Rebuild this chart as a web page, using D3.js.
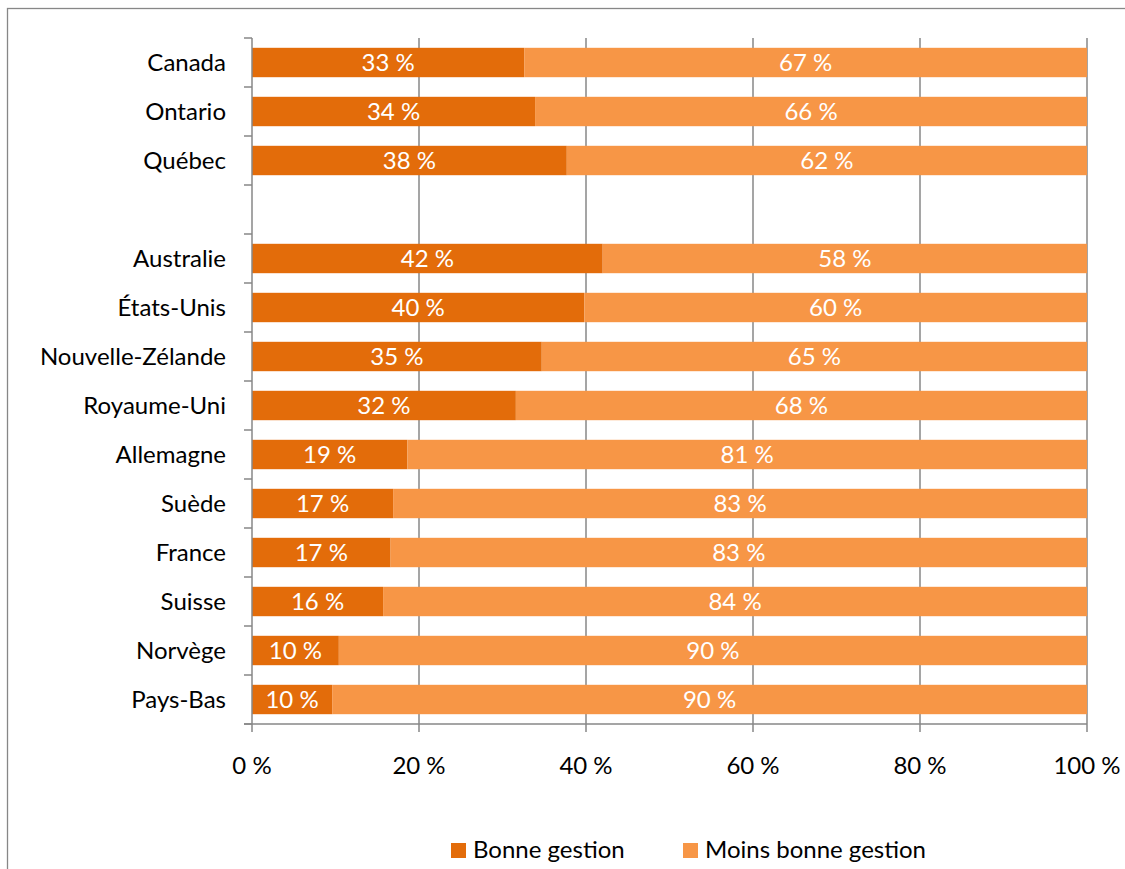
<!DOCTYPE html>
<html lang="fr">

<head>
	<meta charset="utf-8">
	<title>Bonne gestion</title>
	<style>
        body {
            margin: 0;
            background: #fff;
        }
        text {
            font-family: Lato, "Open Sans", sans-serif;
            font-size: 24px;
            fill: #000;
        }
        .value {
            fill: #fff;
        }
	</style>
	<script type="text/javascript" src="https://cdn.jsdelivr.net/npm/d3@7"></script>
</head>

<body>
    <svg width="1125" height="869"></svg>

	<script type="text/javascript">
        // "" is the empty row between Québec and Australie
        const categories = ["Canada", "Ontario", "Québec", "", "Australie", "États-Unis",
            "Nouvelle-Zélande", "Royaume-Uni", "Allemagne", "Suède", "France", "Suisse",
            "Norvège", "Pays-Bas"];
        const bonne = [32.6, 33.9, 37.7, null, 42.0, 39.8, 34.7, 31.6, 18.6, 16.9, 16.6, 15.7, 10.4, 9.6];
        const moins = [67.4, 66.1, 62.3, null, 58.0, 60.2, 65.3, 68.4, 81.4, 83.1, 83.4, 84.3, 89.6, 90.4];
        const seriesNames = ["Bonne gestion", "Moins bonne gestion"];
        const colors = ["#E36C0A", "#F79646"];
        const xTicks = [0, 20, 40, 60, 80, 100];

        const GRAY = "#878787";

        let svg = d3.select("svg");

        // outer frame, cut off at the right and bottom edges
        svg.append("rect")
            .attr("x", 7.5).attr("y", 8.5)
            .attr("width", 1200).attr("height", 1000)
            .attr("fill", "none")
            .attr("stroke", GRAY)
            .attr("stroke-width", 1.3);

        let x = d3.scaleLinear().domain([0, 100]).range([252, 1087]);
        let y = d3.scaleBand().domain(categories).range([38, 724]).paddingInner(0.4).paddingOuter(0.2);

        // vertical grid
        svg.append("g").selectAll("line")
            .data(xTicks.slice(1))
            .join("line")
            .attr("x1", d => x(d)).attr("x2", d => x(d))
            .attr("y1", 38).attr("y2", 724)
            .attr("stroke", GRAY)
            .attr("stroke-width", 1.5);

        // stacked bars
        let rows = categories.map((c, i) => ({ cat: c, b: bonne[i], m: moins[i] }))
            .filter(d => d.b !== null);

        let segs = [];
        rows.forEach(d => {
            segs.push({ cat: d.cat, x0: 0, x1: d.b, v: d.b, s: 0 });
            segs.push({ cat: d.cat, x0: d.b, x1: d.b + d.m, v: d.m, s: 1 });
        });

        svg.append("g").selectAll("rect")
            .data(segs)
            .join("rect")
            .attr("x", d => x(d.x0))
            .attr("width", d => x(d.x1) - x(d.x0))
            .attr("y", d => y(d.cat))
            .attr("height", y.bandwidth())
            .attr("fill", d => colors[d.s]);

        svg.append("g").selectAll("text")
            .data(segs)
            .join("text")
            .attr("class", "value")
            .attr("x", d => (x(d.x0) + x(d.x1)) / 2)
            .attr("y", d => y(d.cat) + y.bandwidth() / 2)
            .attr("dy", "0.36em")
            .attr("text-anchor", "middle")
            .text(d => Math.round(d.v) + " %");

        // y axis
        let step = y.step();
        let yAxis = svg.append("g");
        yAxis.append("line")
            .attr("x1", 252).attr("x2", 252)
            .attr("y1", 38).attr("y2", 724)
            .attr("stroke", GRAY).attr("stroke-width", 1.5);
        yAxis.selectAll("line.tick")
            .data(d3.range(categories.length + 1))
            .join("line")
            .attr("class", "tick")
            .attr("x1", 244).attr("x2", 252)
            .attr("y1", i => 38 + i * step).attr("y2", i => 38 + i * step)
            .attr("stroke", GRAY).attr("stroke-width", 1.5);
        yAxis.selectAll("text")
            .data(categories.filter(c => c !== ""))
            .join("text")
            .attr("x", 226)
            .attr("y", d => y(d) + y.bandwidth() / 2)
            .attr("dy", "0.36em")
            .attr("text-anchor", "end")
            .text(d => d);

        // x axis
        let xAxis = svg.append("g");
        xAxis.append("line")
            .attr("x1", 244).attr("x2", 1087)
            .attr("y1", 724).attr("y2", 724)
            .attr("stroke", GRAY).attr("stroke-width", 1.5);
        xAxis.selectAll("line.tick")
            .data(xTicks)
            .join("line")
            .attr("class", "tick")
            .attr("x1", d => x(d)).attr("x2", d => x(d))
            .attr("y1", 724).attr("y2", 732)
            .attr("stroke", GRAY).attr("stroke-width", 1.5);
        xAxis.selectAll("text")
            .data(xTicks)
            .join("text")
            .attr("x", d => x(d))
            .attr("y", 774)
            .attr("text-anchor", "middle")
            .text(d => d + " %");

        // legend
        let legend = svg.append("g");
        let lx = [451, 683];
        seriesNames.forEach((name, i) => {
            legend.append("rect")
                .attr("x", lx[i]).attr("y", 843)
                .attr("width", 15).attr("height", 15)
                .attr("fill", colors[i]);
            legend.append("text")
                .attr("x", lx[i] + 22).attr("y", 858)
                .text(name);
        });
    </script>
</body>

</html>
